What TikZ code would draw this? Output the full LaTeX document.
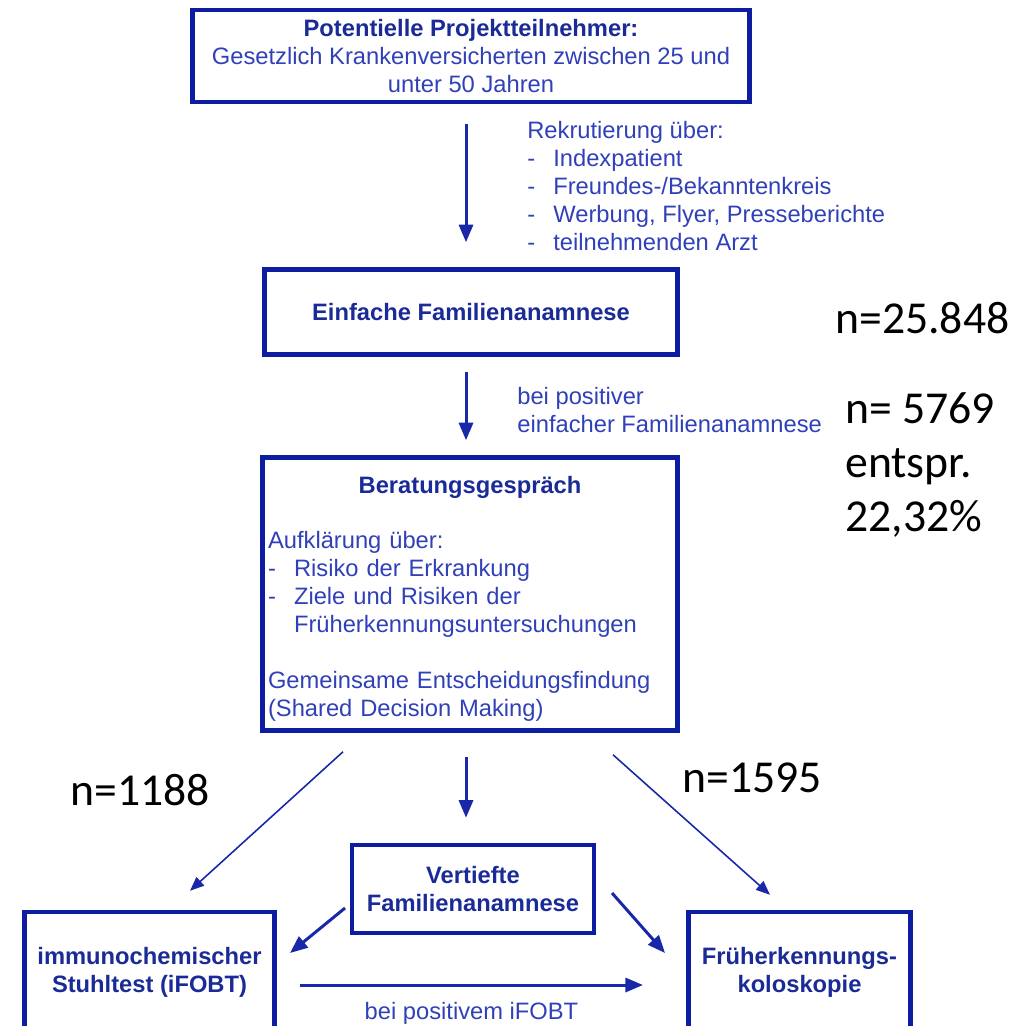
\documentclass[tikz,border=0pt]{standalone}
\usepackage{xcolor}
\usepackage{fontspec}
\setmainfont{Liberation Sans}
\newfontfamily\countfont{Carlito}
\usepackage{tikz}
\usetikzlibrary{arrows.meta,positioning}
\definecolor{boxblue}{HTML}{0E1CA2}
\definecolor{txtblue}{HTML}{3040B8}
\definecolor{darkblue}{HTML}{1A2A96}
\definecolor{arrowblue}{HTML}{1828A8}
\newcommand\boxfont{\fontsize{13.5}{15.9}\selectfont}
\newcommand\listdash{\makebox[0.52cm][l]{-}}

\begin{document}
\begin{tikzpicture}[x=0.02cm, y=-0.02cm,
  flowbox/.style={rectangle, draw=boxblue, line width=2.6pt, align=center,
                  text=txtblue, font=\boxfont},
  titlebox/.style={flowbox, text=darkblue, font=\boxfont\bfseries},
  note/.style={text=txtblue, align=left, font=\boxfont, inner sep=0pt},
  count/.style={text=black, align=left, font=\countfont\fontsize{26}{31}\selectfont, inner sep=0pt},
  arrow/.style={-{Triangle[length=10pt,width=8pt]}, line width=1.7pt, arrowblue},
  thinarrow/.style={-{Triangle[length=8pt,width=6.5pt]}, line width=0.9pt, arrowblue},
]
\useasboundingbox (0,0) rectangle (1033,1025);
\clip (0,0) rectangle (1033,1025);

\node[flowbox, minimum width=11.14cm, minimum height=1.84cm] (pot) at (471,56)
  {\textcolor{darkblue}{\bfseries Potentielle Projektteilnehmer:}\\
   Gesetzlich Krankenversicherten zwischen 25 und\\
   unter 50 Jahren};
\node[titlebox, minimum width=8.26cm, minimum height=1.7cm] (einf) at (471,312)
  {Einfache Familienanamnese};
\node[flowbox, minimum width=8.3cm, minimum height=5.46cm, text width=8.08cm,
      align=left, inner xsep=0.05cm] (ber) at (470,594)
  {\rule{0pt}{0.55cm}\hfill\textcolor{darkblue}{\bfseries Beratungsgespräch}\hfill\null\\[0.54cm]
   Aufklärung über:\\
   \listdash Risiko der Erkrankung\\
   \listdash Ziele und Risiken der\\
   \hspace*{0.52cm}Früherkennungsuntersuchungen\\[0.56cm]
   Gemeinsame Entscheidungsfindung\\
   (Shared Decision Making)};
\node[titlebox, minimum width=4.84cm, minimum height=1.76cm] (vert) at (473,889)
  {Vertiefte\\Familienanamnese};
\node[titlebox, minimum width=5cm, minimum height=2.4cm] (ifobt) at (149.5,972)
  {immunochemischer\\Stuhltest (iFOBT)};
\node[titlebox, minimum width=4.44cm, minimum height=2.4cm] (kolo) at (799.5,972)
  {Früherkennungs-\\koloskopie};

% side notes
\node[note, anchor=west] (rekr) at (527,186)
  {Rekrutierung über:\\
   \listdash Indexpatient\\
   \listdash Freundes-/Bekanntenkreis\\
   \listdash Werbung, Flyer, Presseberichte\\
   \listdash teilnehmenden Arzt};
\node[note, anchor=west] (posfam) at (517,410)
  {bei positiver\\einfacher Familienanamnese};

% counts
\node[count, anchor=west] (nall) at (835,318) {n=25.848};
\node[count, anchor=west] (npos) at (845,465) {n= 5769\\entspr.\\22,32\%};
\node[count, anchor=west] (nfobt) at (70,790) {n=1188};
\node[count, anchor=west] (nkolo) at (682,778) {n=1595};

\draw[arrow] ([shift={(-5,20)}]pot.south) -- ([shift={(-5,-25)}]einf.north);
\draw[arrow] ([shift={(-5,15)}]einf.south) -- ([shift={(-4,-15)}]ber.north);
\draw[arrow] ([shift={(-4,24)}]ber.south) -- ([shift={(-7,-25)}]vert.north);

\draw[thinarrow] ([shift={(-127,19)}]ber.south) -- ([shift={(40.5,-19)}]ifobt.north);
\draw[thinarrow] ([shift={(143,22)}]ber.south) -- ([shift={(-29.5,-15)}]kolo.north);

\draw[arrow] ([shift={(-128,19)}]vert.center) -- ([shift={(140.5,-19)}]ifobt.center);
\draw[arrow] ([shift={(139,4)}]vert.center) -- ([shift={(-134.5,-19)}]kolo.center);
\draw[arrow] ([shift={(150.5,13)}]ifobt.center) -- ([shift={(-156.5,13)}]kolo.center)
  node[note, midway, yshift=-0.56cm] (posfobt) {bei positivem iFOBT};

\end{tikzpicture}
\end{document}
